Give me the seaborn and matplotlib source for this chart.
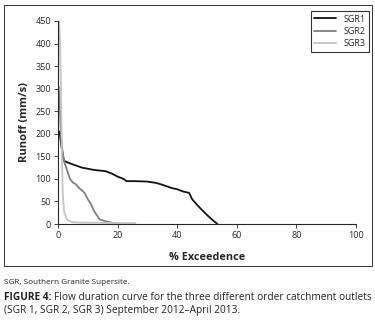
import pandas as pd
import matplotlib.pyplot as plt
import seaborn as sns
from matplotlib.patches import Rectangle

sgr1_x = [0.5, 1.2, 2, 3, 5, 8, 12, 16, 18, 20, 22, 23, 26, 30, 33, 35, 38, 40, 42, 44, 45, 47, 50, 52, 53.5]
sgr1_y = [205, 170, 140, 137, 132, 125, 120, 117, 112, 105, 100, 95, 95, 94, 91, 87, 80, 77, 72, 69, 55, 40, 20, 8, 0]
sgr2_x = [0.2, 0.6, 1, 1.5, 2, 3, 4, 5, 6, 7, 8, 9, 10, 11, 12, 13, 14, 16, 18, 20]
sgr2_y = [305, 260, 200, 160, 140, 120, 100, 92, 88, 80, 75, 68, 55, 45, 30, 20, 10, 6, 3, 1]
sgr3_x = [0.4, 0.7, 1, 1.3, 1.6, 2, 2.5, 3, 4, 5, 8, 12, 20, 26]
sgr3_y = [450, 400, 300, 150, 70, 30, 18, 10, 6, 4, 3, 3, 2, 2]

df = pd.concat([
    pd.DataFrame({"x": sgr1_x, "y": sgr1_y, "s": "SGR1"}),
    pd.DataFrame({"x": sgr2_x, "y": sgr2_y, "s": "SGR2"}),
    pd.DataFrame({"x": sgr3_x, "y": sgr3_y, "s": "SGR3"}),
])

sns.set_style("ticks")
plt.rcParams["font.family"] = ["Open Sans", "DejaVu Sans"]

fig = plt.figure(figsize=(3.75, 3.29), dpi=100)
ax = fig.add_axes([58 / 375, 1 - 224 / 329, 298 / 375, 203 / 329])

sns.lineplot(data=df, x="x", y="y", hue="s", sort=False, estimator=None,
             palette={"SGR1": "#111111", "SGR2": "#808080", "SGR3": "#c4c4c4"},
             linewidth=1.3, ax=ax)

ax.set_xlim(0, 100)
ax.set_ylim(0, 450)
ax.set_xticks(range(0, 101, 20))
ax.set_yticks(range(0, 451, 50))
ax.tick_params(labelsize=6.5, length=3, width=0.6, pad=2)
for s in ["left", "bottom"]:
    ax.spines[s].set_linewidth(0.8)
sns.despine(ax=ax)
ax.set_xlabel("% Exceedence", fontsize=7.8, fontweight="bold", labelpad=9)
ax.set_ylabel("Runoff (mm/s)", fontsize=8, fontweight="bold", labelpad=4)

leg = ax.legend(loc="upper right", bbox_to_anchor=(369 / 375, 1 - 11 / 329),
                bbox_transform=fig.transFigure, fontsize=6.5,
                frameon=True, fancybox=False, edgecolor="black",
                handlelength=2.4, borderpad=0.4, labelspacing=0.35,
                borderaxespad=0)
leg.get_frame().set_linewidth(0.8)

fig.patches.append(Rectangle((4 / 375, 1 - 266 / 329), 368 / 375, 261 / 329,
                             transform=fig.transFigure, fill=False,
                             edgecolor="#333333", linewidth=0.7))

fig.text(4 / 375, 1 - 283 / 329, "SGR, Southern Granite Supersite.",
         fontsize=5.9, va="center", color="#222222")
fig.text(4 / 375, 1 - 297 / 329, "FIGURE 4:", fontsize=7.3, fontweight="bold",
         va="center", color="#222222")
fig.text(372 / 375, 1 - 297 / 329,
         "Flow duration curve for the three different order catchment outlets",
         fontsize=7.3, va="center", ha="right", color="#222222")
fig.text(4 / 375, 1 - 310 / 329,
         "(SGR 1, SGR 2, SGR 3) September 2012\u2013April 2013.",
         fontsize=7.3, va="center", color="#222222")

fig.savefig("out.png", dpi=100)
